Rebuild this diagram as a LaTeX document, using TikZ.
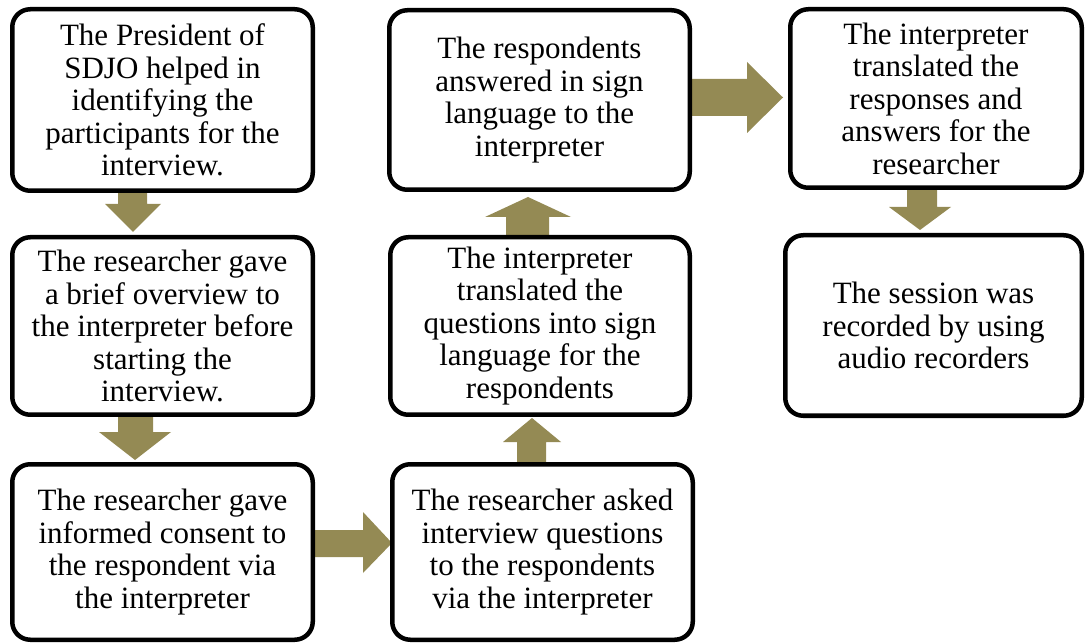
\documentclass[tikz,border=0pt]{standalone}
\usepackage{fontspec}
\setmainfont{Liberation Serif}
\definecolor{olive}{HTML}{948A54}
\tikzset{
  box/.style={draw=black, line width=4.5pt, rounded corners=18pt, fill=white,
    align=center, inner sep=0pt, font=\fontsize{31}{32.5}\selectfont},
  blockarrow/.style={fill=olive, draw=none}
}
\begin{document}
\begin{tikzpicture}[x=1pt,y=-1pt]
\useasboundingbox (0,0) rectangle (1085,644);
% block arrows (drawn first, boxes on top)
\fill[blockarrow] (118,190) -- (147,190) -- (147,204) -- (161,204) -- (133,232) -- (105,204) -- (118,204) -- cycle;
\fill[blockarrow] (118,414) -- (153,414) -- (153,432) -- (171,432) -- (135,460) -- (99,432) -- (118,432) -- cycle;
\fill[blockarrow] (312,530) -- (363,530) -- (363,512) -- (392,543) -- (363,573) -- (363,557) -- (312,557) -- cycle;
\fill[blockarrow] (517,465) -- (517,442) -- (503,442) -- (532,418) -- (561,442) -- (546,442) -- (546,465) -- cycle;
\fill[blockarrow] (506,238) -- (506,217) -- (485,217) -- (528,197) -- (571,217) -- (549,217) -- (549,238) -- cycle;
\fill[blockarrow] (689,79) -- (747,79) -- (747,62) -- (783,97.5) -- (747,133) -- (747,116) -- (689,116) -- cycle;
\fill[blockarrow] (907,187) -- (937,187) -- (937,207) -- (951,207) -- (920,230) -- (889,207) -- (907,207) -- cycle;
% boxes
\node[box, minimum width=300.5pt, minimum height=181.5pt] (b1) at (162.5,100)
  {The President of\\SDJO helped in\\identifying the\\participants for the\\interview.};
\node[box, minimum width=300.5pt, minimum height=177.5pt] (b2) at (162.5,326)
  {The researcher gave\\a brief overview to\\the interpreter before\\starting the\\interview.};
\node[box, minimum width=300.5pt, minimum height=175.5pt] (b3) at (162.5,552)
  {The researcher gave\\informed consent to\\the respondent via\\the interpreter};
\node[box, minimum width=300.5pt, minimum height=175.5pt] (b4) at (542.5,552)
  {The researcher asked\\interview questions\\to the respondents\\via the interpreter};
\node[box, minimum width=299.5pt, minimum height=177.5pt] (b5) at (540,326)
  {The interpreter\\translated the\\questions into sign\\language for the\\respondents};
\node[box, minimum width=300.5pt, minimum height=179.5pt] (b6) at (539.5,100)
  {The respondents\\answered in sign\\language to the\\interpreter};
\node[box, minimum width=291.5pt, minimum height=178.5pt] (b7) at (936,98.5)
  {The interpreter\\translated the\\responses and\\answers for the\\researcher};
\node[box, minimum width=296.5pt, minimum height=180.5pt] (b8) at (933.5,325.5)
  {The session was\\recorded by using\\audio recorders};
\end{tikzpicture}
\end{document}
